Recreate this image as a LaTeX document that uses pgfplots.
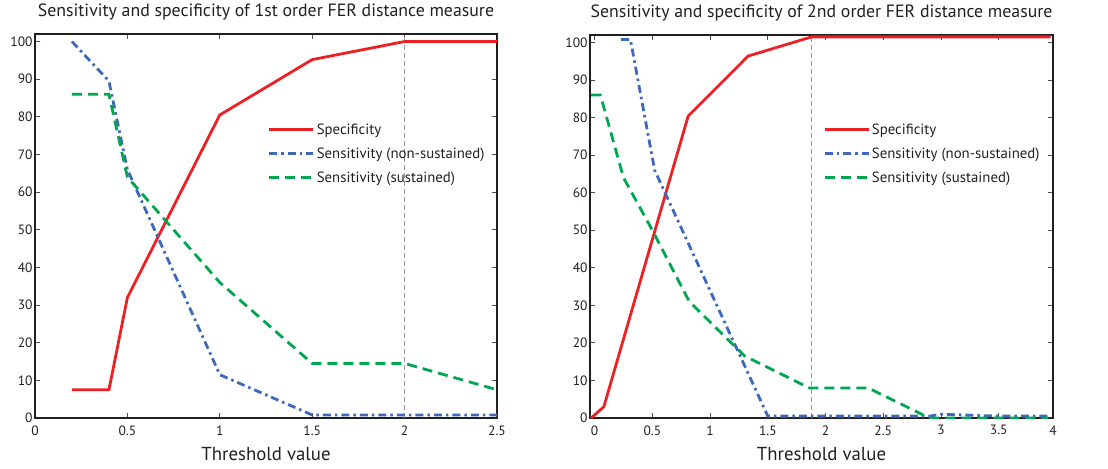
\documentclass[border=0pt]{standalone}
\usepackage{fontspec}
\setmainfont{PT Sans}
\usepackage{pgfplots}
\pgfplotsset{compat=1.18}
\definecolor{myred}{RGB}{237,32,36}
\definecolor{myblue}{RGB}{62,104,186}
\definecolor{mygreen}{RGB}{0,166,80}
\definecolor{vgray}{RGB}{150,150,150}
\definecolor{axcol}{RGB}{35,31,32}
\begin{document}
\begin{tikzpicture}
\path (0pt,0pt) rectangle (1108pt,466pt);
\pgfplotsset{
 every axis/.append style={
  scale only axis,
  axis line style={line width=1.2pt, axcol},
  tick align=inside, major tick length=5pt,
  tick style={line width=0.9pt, axcol!80},
  ymin=0, ymax=102, ytick={0,10,...,100},
  tick label style={font=\fontsize{13.5}{15}\selectfont, text=axcol},
  yticklabel style={xshift=1pt},
  xticklabel style={yshift=-4pt},
  /pgf/number format/assume math mode=true,
  title style={font=\fontsize{17.8}{21}\selectfont, text=axcol, at={(0.5,1)}, anchor=base, yshift=12pt},
  xlabel style={font=\fontsize{18.8}{22}\selectfont, text=axcol, at={(0.5,0)}, anchor=base, yshift=-42pt},
  legend style={draw=none, fill=none, font=\fontsize{14.8}{17}\selectfont, text=axcol, anchor=north west, inner sep=0pt, row sep=8pt},
  legend cell align=left,
  legend image code/.code={\draw[#1] (0pt,0pt) -- (44pt,0pt);},
  clip mode=individual,
 },
 redline/.style={myred, line width=2.8pt, solid},
 blueline/.style={myblue, line width=2.8pt, dash pattern=on 8pt off 4pt on 2.5pt off 4pt},
 greenline/.style={mygreen, line width=2.8pt, dash pattern=on 10pt off 6pt},
 vline/.style={vgray, line width=0.9pt, dash pattern=on 5pt off 3pt, forget plot},
}
% Left panel
\begin{axis}[at={(35pt,50pt)}, anchor=south west, width=462pt, height=384pt,
  xmin=0, xmax=2.5, xtick={0,0.5,...,2.5},
  xticklabels={0,0.5,1,1.5,2,2.5},
  title={Sensitivity and specificity of 1st order FER distance measure},
  xlabel={Threshold value},
  legend style={at={(0.504,0.772)}}]
\addplot[vline] coordinates {(2,0) (2,102)};
\addplot[redline] coordinates {(0.2,7.5)(0.4,7.5)(0.5,32)(1,80.5)(1.5,95.2)(2,100)(2.5,100)};
\addlegendentry{Specificity}
\addplot[blueline] coordinates {(0.2,100)(0.4,89.5)(0.5,66)(1,11.5)(1.5,0.8)(2,0.8)(2.5,0.8)};
\addlegendentry{Sensitivity (non-sustained)}
\addplot[greenline] coordinates {(0.2,86)(0.4,86)(0.5,64)(1,36)(1.5,14.5)(2,14.5)(2.5,7.5)};
\addlegendentry{Sensitivity (sustained)}
\end{axis}
% Right panel
\begin{axis}[at={(590pt,50pt)}, anchor=south west, width=463pt, height=383pt,
  xmin=-0.04, xmax=3.97, xtick={0,0.5,1,1.5,2,2.5,3,3.5,3.97},
  xticklabels={0,0.5,1,1.5,2,2.5,3,3.5,4},
  title={Sensitivity and specificity of 2nd order FER distance measure},
  xlabel={Threshold value},
  legend style={at={(0.503,0.774)}}]
\addplot[vline] coordinates {(1.88,0) (1.88,102)};
\addplot[redline] coordinates {(-0.03,0)(0.08,3)(0.81,80.4)(1.33,96.4)(1.88,101.5)(3.95,101.5)};
\addlegendentry{Specificity}
\addplot[blueline] coordinates {(0.23,100.8)(0.31,100.8)(0.52,66)(1.5,0.5)(2.9,0.5)(3.0,1)(3.5,0.5)(3.93,0.5)};
\addlegendentry{Sensitivity (non-sustained)}
\addplot[greenline] coordinates {(-0.03,86)(0.05,86)(0.25,64)(0.5,50)(0.82,31)(1.3,16.5)(1.86,8)(2.37,8)(2.8,1.5)(2.9,0)(3.93,0)};
\addlegendentry{Sensitivity (sustained)}
\end{axis}
\end{tikzpicture}
\end{document}
